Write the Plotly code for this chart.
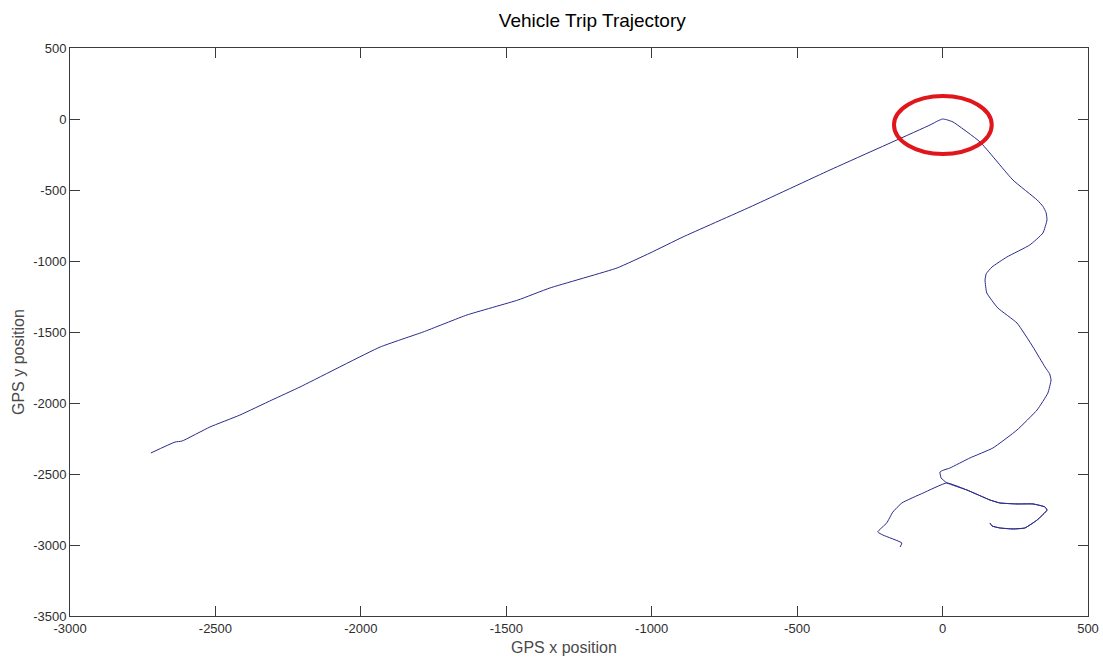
import plotly.graph_objects as go

# Trajectory (GPS x / y positions)
gps_x = [-2722, -2639, -2615, -2519, -2416, -2306, -2209, -1934, -1786, -1635, -1460, -1350,
         -1119, -1006, -893, -662, -387, -43, -15, 0, 14,
         36, 129, 242, 325, 345, 356, 359, 345, 300, 221, 170, 150, 146, 152, 190, 256, 311, 352, 368, 373,
         362, 325, 256, 173, 94, 25, 0, -9, -5, 15,
         84, 163, 197, 256, 311, 352, 359, 325, 283, 242, 197, 170, 163,
         170, 197, 242, 283, 325, 359, 352, 311, 256, 197, 163, 84, 15,
         -67, -140, -171, -192, -223, -205, -140, -146]
gps_y = [-2352, -2275, -2268, -2169, -2085, -1979, -1887, -1606, -1500, -1380, -1275, -1190,
         -1049, -944, -831, -620, -359, -42, -12, 0, -5,
         -21, -162, -430, -570, -615, -660, -711, -803, -887, -972, -1042, -1090, -1134, -1225, -1331, -1437,
         -1606, -1746, -1795, -1838,
         -1930, -2049, -2190, -2317, -2387, -2458, -2475, -2486, -2528, -2563,
         -2613, -2683, -2704, -2711, -2711, -2732, -2754, -2824, -2880, -2887, -2880, -2866, -2845,
         -2866, -2880, -2887, -2880, -2824, -2754, -2732, -2711, -2711, -2704, -2683, -2613, -2563,
         -2634, -2704, -2768, -2845, -2908, -2930, -2986, -3014]

x_ticks = [-3000, -2500, -2000, -1500, -1000, -500, 0, 500]
y_ticks = [500, 0, -500, -1000, -1500, -2000, -2500, -3000, -3500]

# highlight ellipse around the origin
ellipse_x = [-167, 169]
ellipse_y = [-246, 162]

font_family = "Liberation Sans, Arial, sans-serif"

fig = go.Figure()
fig.add_trace(go.Scatter(x=gps_x, y=gps_y, mode="lines",
                         line=dict(color="#2a2a8c", width=1, shape="spline", smoothing=0.4),
                         showlegend=False, hoverinfo="x+y"))

fig.add_shape(type="circle", xref="x", yref="y",
              x0=ellipse_x[0], x1=ellipse_x[1], y0=ellipse_y[0], y1=ellipse_y[1],
              line=dict(color="#e0161c", width=4))

axis_common = dict(showgrid=False, zeroline=False, showline=True, linecolor="#3a3a3a",
                   linewidth=1, mirror="ticks", ticks="inside", ticklen=10, automargin=False,
                   tickcolor="#3a3a3a", tickfont=dict(family=font_family, size=13, color="#2e2e2e"))

fig.update_layout(
    width=1103, height=657,
    margin=dict(l=70, r=15, t=48, b=41),
    paper_bgcolor="white", plot_bgcolor="white",
    title=dict(text="Vehicle Trip Trajectory", x=0.537, xanchor="center", y=1 - 20 / 657,
               yanchor="middle", font=dict(family=font_family, size=19, color="#000000")),
    xaxis=dict(range=[-3000, 500], tickvals=x_ticks, ticktext=[str(v) for v in x_ticks],
               **axis_common),
    yaxis=dict(range=[-3500, 500], tickvals=y_ticks, ticktext=[str(v) for v in y_ticks],
               **axis_common),
    annotations=[
        dict(text="GPS x position", xref="paper", yref="paper", x=(564 - 70) / 1018,
             y=-(647 - 616) / 568, xanchor="center", yanchor="middle", showarrow=False,
             font=dict(family=font_family, size=16, color="#4a4a4a")),
        dict(text="GPS y position", xref="paper", yref="paper", x=-(70 - 18) / 1018,
             y=(616 - 362) / 568, xanchor="center", yanchor="middle", showarrow=False,
             textangle=-90, font=dict(family=font_family, size=16, color="#4a4a4a")),
    ],
)

fig.write_html("out.html")
